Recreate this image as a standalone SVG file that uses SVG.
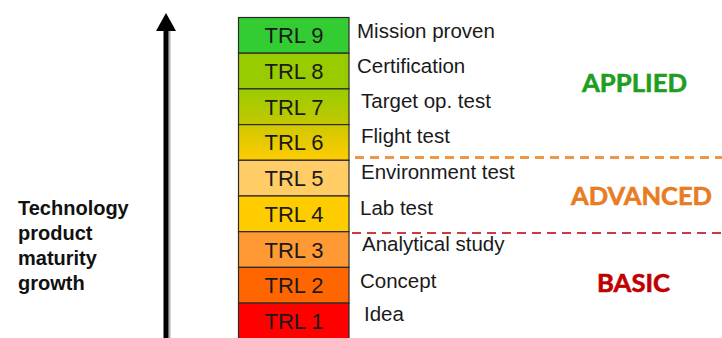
<svg xmlns="http://www.w3.org/2000/svg" width="722" height="338" viewBox="0 0 722 338">
<defs>
<linearGradient id="g7" x1="0" y1="0" x2="0" y2="1"><stop offset="0" stop-color="#99cc00"/><stop offset="1" stop-color="#c4c800"/></linearGradient>
<linearGradient id="g6" x1="0" y1="0" x2="0" y2="1"><stop offset="0" stop-color="#cfc800"/><stop offset="1" stop-color="#ffcc00"/></linearGradient>
</defs>
<style>
.box{stroke:#2a2a2a;stroke-width:1.2}
.trl{font-family:"Liberation Sans",Arial,sans-serif;font-size:22px;fill:#1a1a1a;text-anchor:middle}
.lbl{font-family:"Liberation Sans",Arial,sans-serif;font-size:20.5px;fill:#1a1a1a}
.side{font-family:"Liberation Sans",Arial,sans-serif;font-size:20px;font-weight:bold;fill:#111}
.cat{font-family:Lato,"Open Sans",sans-serif;font-weight:bold;font-size:25px;stroke-width:0.6}
</style>
<g id="axis">
<rect x="168.5" y="31" width="2" height="307" fill="#b0b0b0"/>
<rect x="163.5" y="30" width="5" height="308" fill="#000"/>
<polygon points="166,13 176,31 156,31" fill="#000"/>
<text class="side" x="18" y="215">Technology</text>
<text class="side" x="18" y="240">product</text>
<text class="side" x="18" y="265">maturity</text>
<text class="side" x="18" y="290">growth</text>
</g>
<g id="trl9"><rect class="box" x="238.5" y="17.5" width="110.5" height="35.7" fill="#33cc33"/><text class="trl" x="294" y="43.3">TRL 9</text><text class="lbl" x="357" y="38">Mission proven</text></g>
<g id="trl8"><rect class="box" x="238.5" y="53.2" width="110.5" height="35.7" fill="#99cc00"/><text class="trl" x="294" y="79">TRL 8</text><text class="lbl" x="357" y="73">Certification</text></g>
<g id="trl7"><rect class="box" x="238.5" y="88.9" width="110.5" height="35.7" fill="url(#g7)"/><text class="trl" x="294" y="114.7">TRL 7</text><text class="lbl" x="361" y="107.5">Target op. test</text></g>
<g id="trl6"><rect class="box" x="238.5" y="124.6" width="110.5" height="35.7" fill="url(#g6)"/><text class="trl" x="294" y="150.4">TRL 6</text><text class="lbl" x="361" y="143">Flight test</text></g>
<g id="trl5"><rect class="box" x="238.5" y="160.3" width="110.5" height="35.7" fill="#ffcc66"/><text class="trl" x="294" y="186.1">TRL 5</text><text class="lbl" x="361" y="178.5">Environment test</text></g>
<g id="trl4"><rect class="box" x="238.5" y="196" width="110.5" height="35.7" fill="#ffcc00"/><text class="trl" x="294" y="221.8">TRL 4</text><text class="lbl" x="360" y="214.5">Lab test</text></g>
<g id="trl3"><rect class="box" x="238.5" y="231.7" width="110.5" height="35.7" fill="#ff9933"/><text class="trl" x="294" y="257.5">TRL 3</text><text class="lbl" x="362" y="251">Analytical study</text></g>
<g id="trl2"><rect class="box" x="238.5" y="267.4" width="110.5" height="35.7" fill="#ff6600"/><text class="trl" x="294" y="293.2">TRL 2</text><text class="lbl" x="360" y="287.5">Concept</text></g>
<g id="trl1"><rect class="box" x="238.5" y="303.1" width="110.5" height="40" fill="#ff0000"/><text class="trl" x="294" y="328.9">TRL 1</text><text class="lbl" x="364" y="321">Idea</text></g>
<g id="connectors">
<line x1="355" y1="157.5" x2="722" y2="157.5" stroke="#f0964a" stroke-width="3" stroke-dasharray="9 6"/>
<line x1="352" y1="233" x2="722" y2="233" stroke="#d03a3a" stroke-width="2" stroke-dasharray="9 6"/>
</g>
<g id="categories">
<text class="cat" x="582" y="91.7" fill="#1e9e1e" stroke="#1e9e1e" textLength="105" lengthAdjust="spacingAndGlyphs">APPLIED</text>
<text class="cat" x="571" y="205" fill="#e97c22" stroke="#e97c22" textLength="141" lengthAdjust="spacingAndGlyphs">ADVANCED</text>
<text class="cat" x="597" y="291.7" fill="#c00000" stroke="#c00000" textLength="73" lengthAdjust="spacingAndGlyphs">BASIC</text>
</g>
</svg>
